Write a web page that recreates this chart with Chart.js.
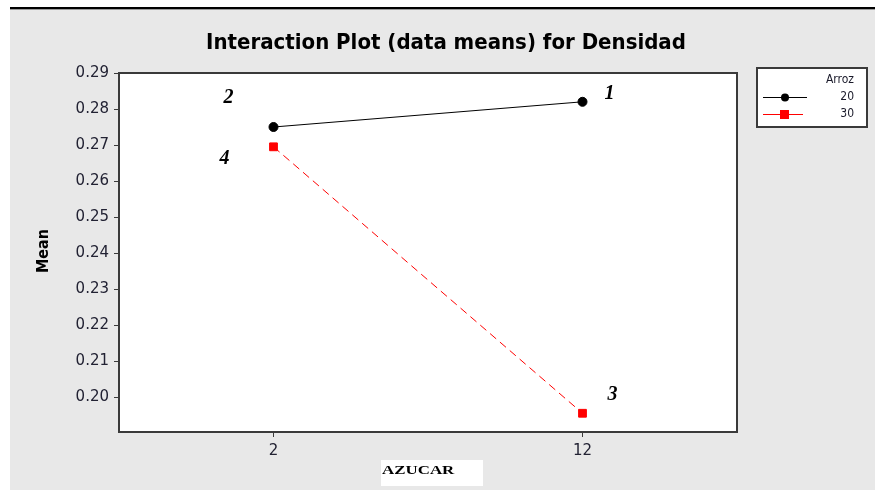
<!DOCTYPE html>
<html>
<head>
<meta charset="utf-8">
<script src="https://cdn.jsdelivr.net/npm/chart.js@4/dist/chart.umd.min.js"></script>
<style>
html,body{margin:0;padding:0;background:#fff;}
#wrap{position:relative;width:875px;height:495px;}
</style>
</head>
<body>
<div id="wrap"><canvas id="c" width="875" height="495"></canvas></div>
<script>
const categories = ["2", "12"];
const seriesNames = ["20", "30"];
const arroz20 = [0.275, 0.282];
const arroz30 = [0.2695, 0.1955];
const pointLabels20 = ["2", "1"];
const pointLabels30 = ["4", "3"];
const yTicks = [0.20, 0.21, 0.22, 0.23, 0.24, 0.25, 0.26, 0.27, 0.28, 0.29];

const toPts = arr => arr.map((v, i) => ({x: i, y: v}));

const bgPlugin = {
  id: 'bg',
  beforeDraw(chart) {
    const ctx = chart.ctx;
    ctx.save();
    ctx.fillStyle = '#ffffff';
    ctx.fillRect(0, 0, 875, 495);
    ctx.fillStyle = '#e8e8e8';
    ctx.fillRect(10, 9, 865, 481);
    ctx.fillStyle = '#000000';
    ctx.fillRect(10, 7, 865, 2);
    ctx.fillStyle = '#9a9a9a';
    ctx.fillRect(10, 9, 865, 1);
    const a = chart.chartArea;
    ctx.fillStyle = '#ffffff';
    ctx.fillRect(a.left, a.top, a.right - a.left, a.bottom - a.top);
    ctx.restore();
  },
  afterDraw(chart) {
    const ctx = chart.ctx;
    const a = chart.chartArea;
    const xs = chart.scales.x, ys = chart.scales.y;
    ctx.save();
    // plot border
    ctx.strokeStyle = '#3a3a3a';
    ctx.lineWidth = 2;
    ctx.strokeRect(a.left, a.top, a.right - a.left, a.bottom - a.top);
    // title
    ctx.fillStyle = '#000';
    ctx.font = 'bold 22px "DejaVu Sans Condensed", "DejaVu Sans", sans-serif';
    ctx.textAlign = 'center';
    ctx.textBaseline = 'middle';
    ctx.fillText('Interaction Plot (data means) for Densidad', 446, 43);
    // y title
    ctx.save();
    ctx.translate(44, 251);
    ctx.rotate(-Math.PI / 2);
    ctx.font = 'bold 16px "DejaVu Sans Condensed", "DejaVu Sans", sans-serif';
    ctx.fillText('Mean', 0, 0);
    ctx.restore();
    // x title box
    ctx.fillStyle = '#ffffff';
    ctx.fillRect(381, 460, 102, 26);
    ctx.fillStyle = '#000';
    ctx.save();
    ctx.translate(382, 471);
    ctx.scale(1.3, 1);
    ctx.font = 'bold 13px "Liberation Serif", serif';
    ctx.textAlign = 'left';
    ctx.fillText('AZUCAR', 0, 0);
    ctx.restore();
    // point labels
    ctx.font = 'bold italic 20px "Liberation Serif", serif';
    ctx.textAlign = 'center';
    const offs20 = [[-45, -29], [27, -8]];
    const offs30 = [[-49, 12], [30, -18]];
    arroz20.forEach((v, i) => {
      ctx.fillText(pointLabels20[i], xs.getPixelForValue(i) + offs20[i][0], ys.getPixelForValue(v) + offs20[i][1]);
    });
    arroz30.forEach((v, i) => {
      ctx.fillText(pointLabels30[i], xs.getPixelForValue(i) + offs30[i][0], ys.getPixelForValue(v) + offs30[i][1]);
    });
    // legend
    ctx.fillStyle = '#ffffff';
    ctx.fillRect(757, 68, 110, 59);
    ctx.strokeStyle = '#3a3a3a';
    ctx.lineWidth = 2;
    ctx.strokeRect(757, 68, 110, 59);
    ctx.fillStyle = '#1a1a2a';
    ctx.font = '12px "DejaVu Sans Condensed", "DejaVu Sans", sans-serif';
    ctx.textAlign = 'right';
    ctx.fillText('Arroz', 854, 80);
    ctx.fillText(seriesNames[0], 854, 97);
    ctx.fillText(seriesNames[1], 854, 114);
    ctx.lineWidth = 1;
    ctx.strokeStyle = '#000';
    ctx.beginPath(); ctx.moveTo(763, 97.5); ctx.lineTo(807, 97.5); ctx.stroke();
    ctx.fillStyle = '#000';
    ctx.beginPath(); ctx.arc(785, 97.5, 4, 0, Math.PI * 2); ctx.fill();
    ctx.strokeStyle = '#ff0000';
    ctx.beginPath(); ctx.moveTo(763, 114.5); ctx.lineTo(803, 114.5); ctx.stroke();
    ctx.fillStyle = '#ff0000';
    ctx.fillRect(780, 110, 9, 9);
    ctx.restore();
  }
};

const tickFont = { family: '"DejaVu Sans", sans-serif', size: 15 };

new Chart(document.getElementById('c'), {
  type: 'line',
  data: {
    datasets: [
      {
        label: seriesNames[0],
        data: toPts(arroz20),
        borderColor: '#000000',
        backgroundColor: '#000000',
        borderWidth: 1,
        pointStyle: 'circle',
        pointRadius: 4.5,
        pointHoverRadius: 4.5
      },
      {
        label: seriesNames[1],
        data: toPts(arroz30),
        borderColor: '#ff0000',
        backgroundColor: '#ff0000',
        borderWidth: 1,
        borderDash: [8, 5],
        pointStyle: 'rect',
        pointRadius: 5.5,
        pointHoverRadius: 5.5
      }
    ]
  },
  options: {
    responsive: false,
    animation: false,
    events: [],
    layout: { padding: { left: 39, right: 138, top: 73, bottom: 0 } },
    plugins: { legend: { display: false }, title: { display: false }, tooltip: { enabled: false } },
    scales: {
      x: {
        type: 'linear',
        min: -0.5,
        max: 1.5,
        afterBuildTicks: s => { s.ticks = categories.map((c, i) => ({value: i})); },
        afterFit: s => { s.height = 63; },
        ticks: {
          callback: (v) => categories[v] !== undefined ? categories[v] : '',
          color: '#222233',
          font: tickFont,
          padding: 5,
          maxRotation: 0
        },
        grid: { drawOnChartArea: false, drawTicks: true, tickLength: 5, color: '#3a3a3a' },
        border: { display: false }
      },
      y: {
        type: 'linear',
        min: 0.1903,
        max: 0.29,
        afterBuildTicks: s => { s.ticks = yTicks.map(v => ({value: v})); },
        afterFit: s => { s.width = 80; },
        ticks: {
          callback: v => Number(v).toFixed(2),
          color: '#222233',
          font: tickFont,
          padding: 5
        },
        grid: { drawOnChartArea: false, drawTicks: true, tickLength: 5, color: '#3a3a3a' },
        border: { display: false }
      }
    }
  },
  plugins: [bgPlugin]
});
</script>
</body>
</html>
